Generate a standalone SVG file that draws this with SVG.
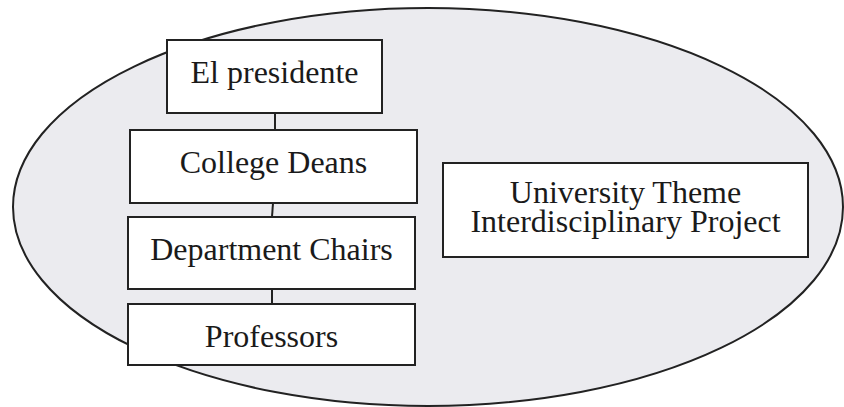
<svg xmlns="http://www.w3.org/2000/svg" width="844" height="407" viewBox="0 0 844 407">
<style>
.box{fill:#fff;stroke:#222;stroke-width:2}
.lbl{font-family:"Liberation Serif","Times New Roman",serif;font-size:32px;fill:#1a1a1a;text-anchor:middle}
.con{stroke:#222;stroke-width:2;fill:none}
</style>
<rect width="844" height="407" fill="#fff"/>
<ellipse id="scope" cx="428" cy="207" rx="415" ry="199" fill="#ebebef" stroke="#222" stroke-width="2"/>
<g id="connectors">
<line class="con" x1="275" y1="113" x2="275" y2="130"/>
<line class="con" x1="273" y1="203" x2="272" y2="217"/>
<line class="con" x1="272" y1="289" x2="272" y2="304"/>
</g>
<g id="president"><rect class="box" x="167" y="40" width="215" height="73"/><text class="lbl" x="274.5" y="83">El presidente</text></g>
<g id="deans"><rect class="box" x="130" y="130" width="287" height="73"/><text class="lbl" x="273.5" y="173">College Deans</text></g>
<g id="chairs"><rect class="box" x="128" y="217" width="287" height="72"/><text class="lbl" x="271.5" y="260">Department Chairs</text></g>
<g id="professors"><rect class="box" x="128" y="304" width="287" height="61"/><text class="lbl" x="271.5" y="347">Professors</text></g>
<g id="project"><rect class="box" x="443" y="163" width="365" height="94"/><text class="lbl" x="625.5" y="203">University Theme</text><text class="lbl" x="625.5" y="232">Interdisciplinary Project</text></g>
</svg>
